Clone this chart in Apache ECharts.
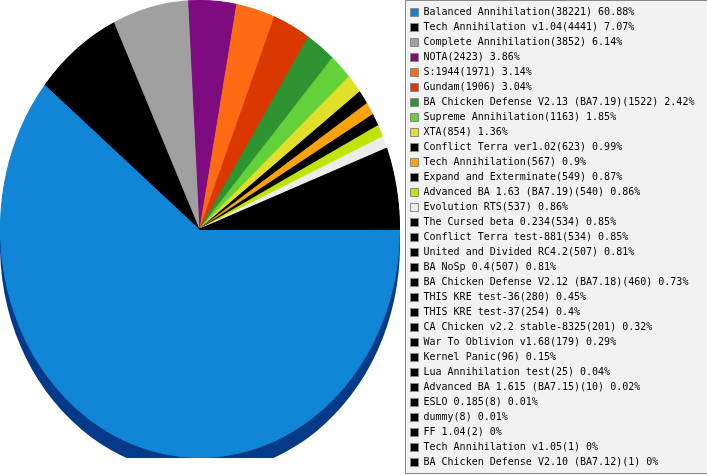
<!DOCTYPE html>
<html>
<head>
<meta charset="utf-8">
<script src="https://cdn.jsdelivr.net/npm/echarts@6/dist/echarts.min.js"></script>
<style>
  html, body { margin: 0; padding: 0; background: #fff; }
  #wrap { position: relative; width: 707px; height: 475px; overflow: hidden; }
  #legend { position: absolute; left: 0; top: 0; width: 707px; height: 475px; }
  /* the pie is drawn round and stretched a bit in height, like the original */
  #pie { position: absolute; left: 0; top: 0; width: 400px; height: 400px;
         transform: scaleY(1.145); transform-origin: 0 0; }
</style>
</head>
<body>
<div id="wrap">
  <div id="legend"></div>
  <div id="pie"></div>
</div>
<script>
const mods = ["Balanced Annihilation", "Tech Annihilation v1.04", "Complete Annihilation", "NOTA", "S:1944",
  "Gundam", "BA Chicken Defense V2.13 (BA7.19)", "Supreme Annihilation", "XTA", "Conflict Terra ver1.02",
  "Tech Annihilation", "Expand and Exterminate", "Advanced BA 1.63 (BA7.19)", "Evolution RTS", "The Cursed beta 0.234",
  "Conflict Terra test-881", "United and Divided RC4.2", "BA NoSp 0.4", "BA Chicken Defense V2.12 (BA7.18)", "THIS KRE test-36",
  "THIS KRE test-37", "CA Chicken v2.2 stable-8325", "War To Oblivion v1.68", "Kernel Panic", "Lua Annihilation test",
  "Advanced BA 1.615 (BA7.15)", "ESLO 0.185", "dummy", "FF 1.04", "Tech Annihilation v1.05",
  "BA Chicken Defense V2.10 (BA7.12)"]
const games = [38221, 4441, 3852, 2423, 1971, 1906, 1522, 1163, 854, 623,
  567, 549, 540, 537, 534, 534, 507, 507, 460, 280,
  254, 201, 179, 96, 25, 10, 8, 8, 2, 1, 1]
const palette = ['#1186d6', '#000000', '#a0a0a0', '#7f0b80', '#fe6b12', '#da3800', '#2e9331', '#63d23a',
  '#e0df2a', '#000000', '#fba30a', '#000000', '#bfe40a', '#ececec']

let total = 0
for (let i = 0; i < games.length; i++) total += games[i]

let arr = []
let under = []
for (let i = 0; i < mods.length; i++) {
  let c = palette[i] || '#000000'
  arr.push({ name: mods[i], value: games[i], itemStyle: { color: c, borderColor: c } })
  // the side of the pie: dark blue under the big slice, same colour elsewhere
  under.push({ value: games[i], itemStyle: { color: i == 0 ? '#023a88' : c } })
}

// pie, drawn in its own (stretched) chart
let pieChart = echarts.init(document.getElementById("pie"), null, { renderer: 'svg' })
pieChart.setOption({
  animation: false,
  series: [{
    type: 'pie',
    silent: true,
    center: [200, 214],
    radius: 200,
    startAngle: 0,
    clockwise: true,
    label: { show: false },
    labelLine: { show: false },
    itemStyle: { borderWidth: 0 },
    data: under
  }, {
    type: 'pie',
    center: [200, 200],
    radius: 199.5,
    startAngle: 0,
    clockwise: true,
    label: { show: false },
    labelLine: { show: false },
    itemStyle: { borderWidth: 1 },
    emphasis: { disabled: true },
    data: arr
  }]
})

// legend, in a normal chart over the whole page
let legendChart = echarts.init(document.getElementById("legend"))
legendChart.setOption({
  animation: false,
  graphic: [{
    type: 'rect',
    z: 0,
    shape: { x: 405.5, y: 0.5, width: 320, height: 473 },
    style: { fill: '#f2f2f2', stroke: '#888888', lineWidth: 1 }
  }],
  legend: {
    orient: 'vertical',
    left: 410,
    top: 5,
    padding: 0,
    itemGap: 0,
    itemWidth: 8,
    itemHeight: 8,
    icon: 'rect',
    itemStyle: { borderColor: '#888888', borderWidth: 1 },
    textStyle: { fontFamily: 'DejaVu Sans Mono', fontSize: 10, color: '#000', lineHeight: 15 },
    formatter: function (name) {
      let i = mods.indexOf(name)
      let pct = Math.round(games[i] / total * 10000) / 100
      return name + '(' + games[i] + ') ' + pct + '%'
    },
    data: mods
  },
  series: [{
    type: 'pie',
    silent: true,
    center: [-100, -100],
    radius: 0,
    label: { show: false },
    labelLine: { show: false },
    data: arr
  }]
})
</script>
</body>
</html>
